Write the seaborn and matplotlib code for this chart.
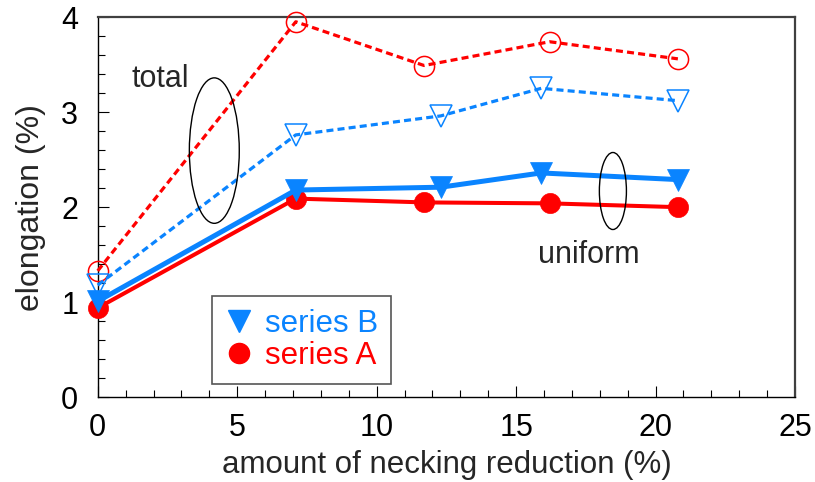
import matplotlib
matplotlib.use("Agg")
import matplotlib.pyplot as plt
from matplotlib.lines import Line2D
from matplotlib.patches import Ellipse
from matplotlib.ticker import MultipleLocator
import seaborn as sns

# necking reduction (%) and elongation (%) for each series
a_uniform_x = [0, 7.1, 11.7, 16.2, 20.8]
a_uniform_y = [0.94, 2.09, 2.05, 2.04, 2.00]
a_total_x = [0, 7.1, 11.7, 16.2, 20.8]
a_total_y = [1.33, 3.95, 3.49, 3.74, 3.56]

b_uniform_x = [0, 7.1, 12.3, 15.9, 20.8]
b_uniform_y = [1.01, 2.18, 2.21, 2.36, 2.29]
b_total_x = [0, 7.1, 12.3, 15.9, 20.8]
b_total_y = [1.18, 2.76, 2.96, 3.25, 3.12]

series_labels = ["series B", "series A"]
x_ticks = [0, 5, 10, 15, 20, 25]
y_ticks = [0, 1, 2, 3, 4]

RED = "#FF0000"
BLUE = "#0A84FF"

sns.set_style("ticks")
plt.rcParams["font.family"] = ["Liberation Sans", "DejaVu Sans"]

fig = plt.figure(figsize=(8.15, 4.82), dpi=100)
ax = fig.add_axes([0.1199, 0.1757, 0.8556, 0.789])

dash = (0, (2.2, 1.3))

# total elongation (dashed, open markers)
sns.lineplot(x=a_total_x, y=a_total_y, ax=ax, estimator=None, sort=False,
             color=RED, lw=2.3, linestyle=dash, marker="o", markersize=14.5,
             markerfacecolor="none", markeredgecolor=RED, markeredgewidth=1.1,
             clip_on=False, zorder=3)
sns.lineplot(x=b_total_x, y=b_total_y, ax=ax, estimator=None, sort=False,
             color=BLUE, lw=2.3, linestyle=dash, marker="v", markersize=15.5,
             markerfacecolor="none", markeredgecolor=BLUE, markeredgewidth=1.1,
             clip_on=False, zorder=3)

# uniform elongation (solid, filled markers)
sns.lineplot(x=a_uniform_x, y=a_uniform_y, ax=ax, estimator=None, sort=False,
             color=RED, lw=2.9, marker="o", markersize=14.5,
             markerfacecolor=RED, markeredgecolor=RED, markeredgewidth=0.5,
             clip_on=False, zorder=4)
sns.lineplot(x=b_uniform_x, y=b_uniform_y, ax=ax, estimator=None, sort=False,
             color=BLUE, lw=3.6, marker="v", markersize=15.5,
             markerfacecolor=BLUE, markeredgecolor=BLUE, markeredgewidth=0.5,
             clip_on=False, zorder=5)

ax.set_xlim(0, 25)
ax.set_ylim(0, 4)
ax.set_xticks(x_ticks)
ax.set_yticks(y_ticks)
ax.xaxis.set_minor_locator(MultipleLocator(1))
ax.yaxis.set_minor_locator(MultipleLocator(0.2))
ax.tick_params(axis="both", which="major", direction="in", length=8,
               width=0.8, color="black", labelsize=22, labelcolor="black")
ax.tick_params(axis="both", which="minor", direction="in", length=5,
               width=0.8, color="black")
ax.tick_params(axis="x", which="major", pad=11)
ax.tick_params(axis="y", which="major", pad=14)

for side in ["left", "bottom"]:
    ax.spines[side].set_color("black")
    ax.spines[side].set_linewidth(1.0)
for side in ["top", "right"]:
    ax.spines[side].set_visible(True)
    ax.spines[side].set_color("#404040")
    ax.spines[side].set_linewidth(1.6)

ax.set_xlabel("amount of necking reduction (%)", fontsize=22.5, labelpad=5)
ax.set_ylabel("elongation (%)", fontsize=23, labelpad=11)

# group annotations
ax.add_patch(Ellipse((4.18, 2.595), 1.79, 1.53, fill=False, ec="black", lw=1.0, zorder=6))
ax.add_patch(Ellipse((18.47, 2.17), 0.97, 0.81, fill=False, ec="black", lw=1.0, zorder=6))
ax.text(1.22, 3.263, "total", fontsize=22, ha="left", va="baseline")
ax.text(15.79, 1.41, "uniform", fontsize=22, ha="left", va="baseline")

handles = [
    Line2D([], [], linestyle="none", marker="v", markersize=15.5,
           color=BLUE, markeredgecolor=BLUE),
    Line2D([], [], linestyle="none", marker="o", markersize=14.5,
           color=RED, markeredgecolor=RED),
]
leg = ax.legend(handles, series_labels, loc="lower left",
                bbox_to_anchor=(0.164, 0.034), borderaxespad=0,
                fontsize=22.5, frameon=True, fancybox=False, framealpha=1,
                edgecolor="#555555", borderpad=0.42, labelspacing=0.08,
                handlelength=0.9, handletextpad=0.38)
leg.get_frame().set_linewidth(1.2)
for txt, c in zip(leg.get_texts(), [BLUE, RED]):
    txt.set_color(c)

fig.savefig("out.png", dpi=100, facecolor="white")
